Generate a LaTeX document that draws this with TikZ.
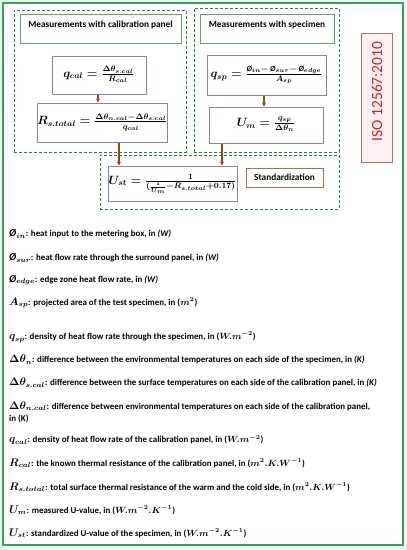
\documentclass[tikz,border=0pt]{standalone}
\usepackage{amsmath,amssymb}
\usepackage{fontspec}
\setmainfont{Carlito}
\usetikzlibrary{arrows.meta}
\definecolor{mint}{HTML}{EAFBF2}
\definecolor{outergreen}{HTML}{3E9B5E}
\definecolor{dashgreen}{HTML}{2F7D3A}
\definecolor{titlegreen}{HTML}{6A9F78}
\definecolor{formborder}{HTML}{8484A8}
\definecolor{arrbrown}{HTML}{8B4A1A}
\definecolor{stdborder}{HTML}{A86E55}
\definecolor{isoborder}{HTML}{A87060}
\definecolor{isofill}{HTML}{FFF0F3}
\definecolor{isored}{HTML}{C8202A}
\newcommand{\lbl}[1]{{\fontsize{10.5}{12}\selectfont$#1$}}
\newcommand{\flow}{\textit{\O}}
\tikzset{
  box/.style={draw, line width=0.8pt, inner sep=0pt, rectangle},
  dbox/.style={draw=dashgreen, dashed, dash pattern=on 3pt off 2pt, line width=1pt, inner sep=0pt, rectangle},
  titlebox/.style={draw=titlegreen, line width=0.9pt, fill=white, inner sep=0pt},
  formbox/.style={draw=formborder, line width=1pt, fill=white, inner sep=0pt, font=\fontsize{12}{14}\selectfont\bfseries\boldmath},
  titletext/.style={font=\fontsize{9.3}{11}\selectfont\bfseries, inner sep=0pt},
  desc/.style={anchor=west, inner sep=0pt, align=left, font=\fontsize{8.9}{12}\selectfont\bfseries\boldmath},
  arr/.style={draw=arrbrown, line width=1.2pt, -{Stealth[length=4pt,width=4pt]}},
}
\begin{document}
\begin{tikzpicture}[x=1pt,y=-1pt]
\useasboundingbox (0,0) rectangle (407,550);
\fill[mint] (0,0) rectangle (407,550);
\node[box, draw=outergreen, line width=1.3pt, fill=white, minimum width=400pt, minimum height=542pt] (outer) at (203,274) {};

% dashed group boxes
\node[dbox, minimum width=172pt, minimum height=142pt] (gcal) at (100,81) {};
\node[dbox, minimum width=145pt, minimum height=144pt] (gsp) at (266.5,80) {};
\node[dbox, minimum width=239pt, minimum height=54pt] (gstd) at (219.5,182) {};

% titles
\node[titlebox, minimum width=161pt, minimum height=29pt] (t1) at (100.5,28.5) {};
\node[titletext] (t1text) at (100.5,25) {Measurements with calibration panel};
\node[titlebox, minimum width=134pt, minimum height=29pt] (t2) at (267,28.5) {};
\node[titletext] (t2text) at (267,25) {Measurements with specimen};

% formula boxes
\node[formbox, minimum width=94pt, minimum height=38pt] (qcal) at (99,75)
  {$q_{cal} = \frac{\Delta\theta_{s.cal}}{\mathstrut R_{cal}}$};
\node[formbox, minimum width=127pt, minimum height=39pt] (rst) at (102.5,122.5)
  {$R_{s.total} = \frac{\Delta\theta_{n.cal}-\Delta\theta_{s.cal}}{\mathstrut q_{cal}}$};
\node[formbox, minimum width=119pt, minimum height=40pt] (qsp) at (266.5,75)
  {$q_{sp} = \frac{\flow_{in}-\,\flow_{sur}-\,\flow_{edge}}{\mathstrut A_{sp}}$};
\node[formbox, minimum width=114pt, minimum height=36pt] (um) at (266,125)
  {$U_{m} = \frac{q_{sp}}{\mathstrut\Delta\theta_{n}}$};
\node[formbox, minimum width=129pt, minimum height=35pt] (ust) at (172.5,183.5)
  {$U_{st} = \frac{1}{(\frac{1}{U_{m}}-R_{s.total}+0.17)}$};
\node[box, draw=stdborder, line width=0.9pt, fill=white, minimum width=77pt, minimum height=19pt, font=\fontsize{9.3}{11}\selectfont\bfseries] (std) at (284.5,177.5) {Standardization};

% ISO box
\node[box, draw=isoborder, line width=0.9pt, fill=isofill, minimum width=31pt, minimum height=129pt] (iso) at (376.5,97.5) {};
\node[rotate=90, text=isored, font=\fontsize{15.5}{16}\selectfont, inner sep=0pt] (isotext) at (377,91.5) {ISO 12567:2010};

% arrows
\draw[arr] ([xshift=-1pt]qcal.south) -- ([xshift=-1pt]qcal.south |- rst.north);
\draw[arr] ([xshift=-2.5pt]qsp.south) -- ([xshift=-2.5pt]qsp.south |- um.north);
\draw[arr] ([xshift=16.5pt]rst.south) -- ([xshift=16.5pt]rst.south |- ust.north);
\draw[arr] ([xshift=-44pt]um.south) -- ([xshift=-44pt]um.south |- ust.north);

% descriptions
\node[desc] (d1) at (9,234) {\lbl{\flow_{in}}: heat input to the metering box, in \textit{(W)}};
\node[desc] (d2) at (9,258) {\lbl{\flow_{sur}}: heat flow rate through the surround panel, in \textit{(W)}};
\node[desc] (d3) at (9,280) {\lbl{\flow_{edge}}: edge zone heat flow rate, in \textit{(W)}};
\node[desc] (d4) at (9,303) {\lbl{A_{sp}}: projected area of the test specimen, in ($m^{2}$)};
\node[desc] (d5) at (9,337) {\lbl{q_{sp}}: density of heat flow rate through the specimen, in ($W.m^{-2}$)};
\node[desc] (d6) at (9,360) {\lbl{\Delta\theta_{n}}: difference between the environmental temperatures on each side of the specimen, in \textit{(K)}};
\node[desc] (d7) at (9,383) {\lbl{\Delta\theta_{s.cal}}: difference between the surface temperatures on each side of the calibration panel, in \textit{(K)}};
\node[desc] (d8) at (9,412) {\lbl{\Delta\theta_{n.cal}}: difference between environmental temperatures on each side of the calibration panel,\\ in (K)};
\node[desc] (d9) at (9,440) {\lbl{q_{cal}}: density of heat flow rate of the calibration panel, in ($W.m^{-2}$)};
\node[desc] (d10) at (9,463) {\lbl{R_{cal}}: the known thermal resistance of the calibration panel, in ($m^{2}.K.W^{-1}$)};
\node[desc] (d11) at (9,487) {\lbl{R_{s.total}}: total surface thermal resistance of the warm and the cold side, in ($m^{2}.K.W^{-1}$)};
\node[desc] (d12) at (9,510) {\lbl{U_{m}}: measured U-value, in ($W.m^{-2}.K^{-1}$)};
\node[desc] (d13) at (9,533) {\lbl{U_{st}}: standardized U-value of the specimen, in ($W.m^{-2}.K^{-1}$)};
\end{tikzpicture}
\end{document}
